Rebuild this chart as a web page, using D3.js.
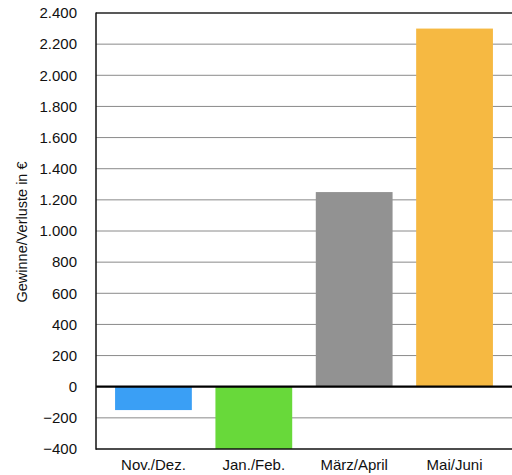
<!DOCTYPE html>
<html><head><meta charset="utf-8">
<script src="https://cdn.jsdelivr.net/npm/d3@7"></script>
<style>body{margin:0;background:#fff}svg{display:block}text{font-family:"Liberation Sans",Arial,sans-serif}</style>
</head><body><svg id="c" width="512" height="475"></svg>
<script>
const categories = ["Nov./Dez.", "Jan./Feb.", "März/April", "Mai/Juni"];
const values = [-150, -400, 1250, 2300];
const colors = ["#3a9ff5", "#68d93a", "#929292", "#f6b942"];
const yTicks = [-400, -200, 0, 200, 400, 600, 800, 1000, 1200, 1400, 1600, 1800, 2000, 2200, 2400];
const yTitle = "Gewinne/Verluste in €";

const svg = d3.select("#c");
const L = 96, R = 512, T = 13, B = 449;
const y = d3.scaleLinear().domain([-400, 2400]).range([B, T]);
const x = d3.scaleBand().domain(categories).range([L, R]).paddingInner(0.235).paddingOuter(0.19);
const fmt = v => d3.format(",")(v).replace(/,/g, ".");

// grid
svg.append("g").selectAll("line").data(yTicks.filter(t => t !== 0 && t !== -400 && t !== 2400))
  .join("line").attr("x1", L).attr("x2", R).attr("y1", d => y(d)).attr("y2", d => y(d))
  .attr("stroke", "#8a8a8a").attr("stroke-width", 1);

// bars
svg.append("g").selectAll("rect").data(values).join("rect")
  .attr("x", (d, i) => x(categories[i]))
  .attr("width", x.bandwidth())
  .attr("y", d => y(Math.max(0, d)))
  .attr("height", d => Math.abs(y(d) - y(0)))
  .attr("fill", (d, i) => colors[i]);

// frame lines
svg.append("line").attr("x1", L).attr("x2", R).attr("y1", y(2400)).attr("y2", y(2400)).attr("stroke", "#222").attr("stroke-width", 1.3);
svg.append("line").attr("x1", L).attr("x2", R).attr("y1", y(-400)).attr("y2", y(-400)).attr("stroke", "#111").attr("stroke-width", 1.5);
svg.append("line").attr("x1", L).attr("x2", R).attr("y1", y(0)).attr("y2", y(0)).attr("stroke", "#000").attr("stroke-width", 2.2);
svg.append("line").attr("x1", L).attr("x2", L).attr("y1", T - 0.6).attr("y2", B + 0.7).attr("stroke", "#111").attr("stroke-width", 1.5);

// y tick labels
svg.append("g").selectAll("text").data(yTicks).join("text")
  .attr("x", 77).attr("y", d => y(d)).attr("dy", "0.35em")
  .attr("text-anchor", "end").attr("font-size", 15).attr("fill", "#111")
  .text(fmt);

// x labels
svg.append("g").selectAll("text").data(categories).join("text")
  .attr("x", d => x(d) + x.bandwidth() / 2).attr("y", 470)
  .attr("text-anchor", "middle").attr("font-size", 15).attr("fill", "#111")
  .text(d => d);

// y title
svg.append("text").attr("transform", "translate(27,232) rotate(-90)")
  .attr("text-anchor", "middle").attr("font-size", 14.5).attr("fill", "#111").text(yTitle);
</script></body></html>
